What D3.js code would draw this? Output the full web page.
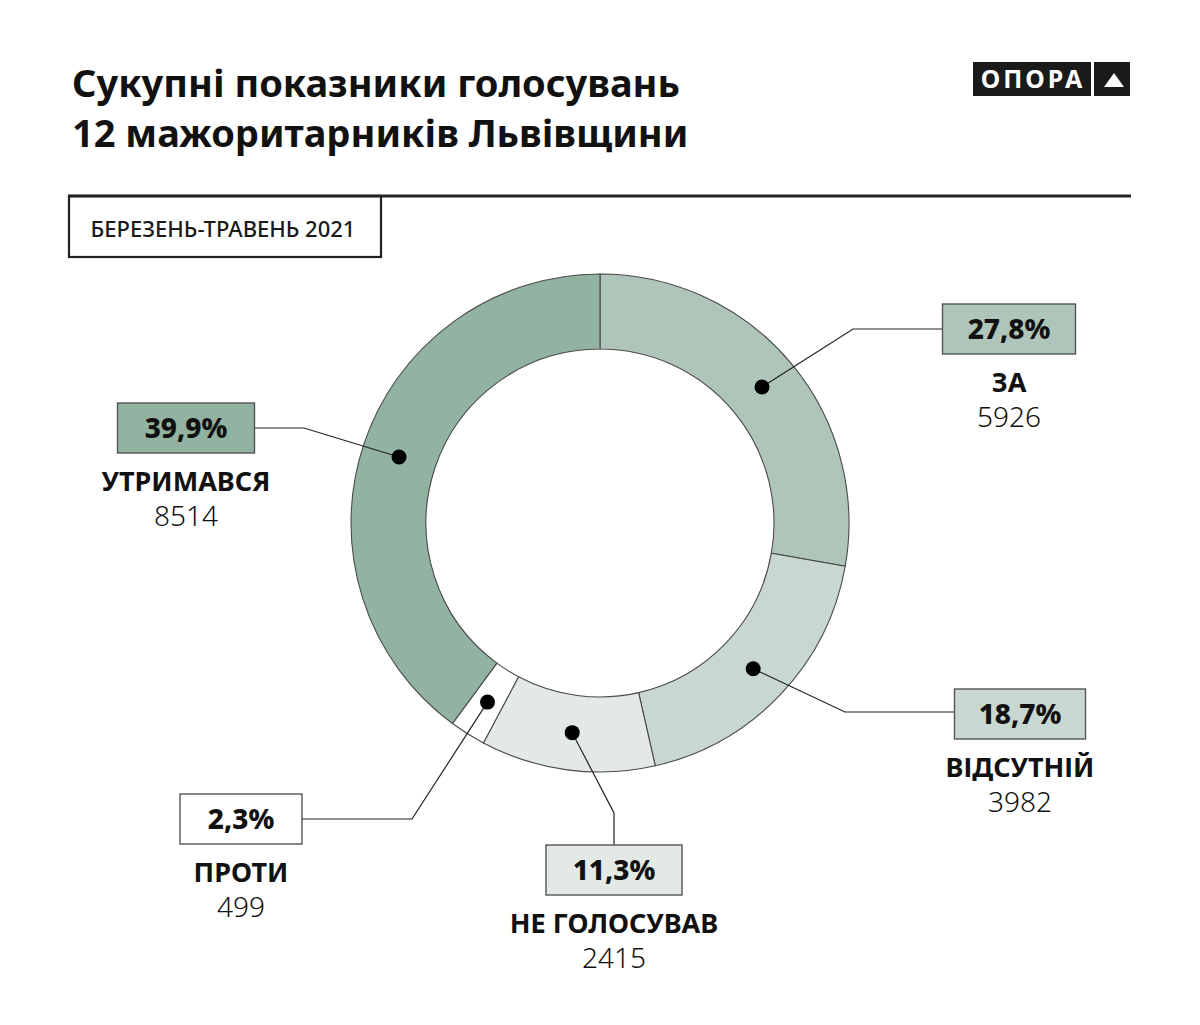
<!DOCTYPE html>
<html>
<head>
<meta charset="utf-8">
<script src="https://cdn.jsdelivr.net/npm/d3@7"></script>
<style>
  body { margin: 0; background: #fff; }
  svg { display: block; font-family: "Noto Sans", "DejaVu Sans", sans-serif; }
</style>
</head>
<body>
<svg id="chart" width="1200" height="1025"></svg>
<script>
// data
var categories = ["ЗА", "ВІДСУТНІЙ", "НЕ ГОЛОСУВАВ", "ПРОТИ", "УТРИМАВСЯ"];
var votes = [5926, 3982, 2415, 499, 8514];
var colors = ["#afc5b9", "#c8d7cf", "#e3eae5", "#ffffff", "#92b2a2"];

// where each callout sits: box centre x, box top y, elbow of the leader line
var callouts = [
  { cx: 1009, top: 304, w: 133, elbow: [853, 329], end: [943, 329] },
  { cx: 1020, top: 689, w: 131, elbow: [845, 712], end: [955, 712] },
  { cx: 614, top: 845, w: 136, elbow: [614, 813], end: [614, 845] },
  { cx: 241, top: 794, w: 122, elbow: [412, 819], end: [302, 819] },
  { cx: 186, top: 403, w: 137, elbow: [304, 428], end: [255, 428] }
];

var svg = d3.select("#chart");

// title
var title = svg.append("text")
  .attr("x", 72).attr("y", 97)
  .attr("font-size", 38).attr("font-weight", 700).attr("fill", "#111");
title.append("tspan").attr("x", 72).attr("y", 97).text("Сукупні показники голосувань");
title.append("tspan").attr("x", 72).attr("y", 147).text("12 мажоритарників Львівщини");

// logo
svg.append("rect").attr("x", 973).attr("y", 62).attr("width", 118).attr("height", 34).attr("fill", "#1a1a1a");
svg.append("rect").attr("x", 1094).attr("y", 62).attr("width", 36).attr("height", 34).attr("fill", "#1a1a1a");
svg.append("text").attr("x", 1033).attr("y", 88).attr("text-anchor", "middle")
  .attr("font-size", 25).attr("font-weight", 700).attr("fill", "#fff")
  .attr("letter-spacing", 3).text("ОПОРА");
svg.append("path").attr("d", "M1114,73 L1124,87 L1104,87 Z").attr("fill", "#fff");

// rule + period box
svg.append("line").attr("x1", 68).attr("x2", 1131).attr("y1", 196).attr("y2", 196)
  .attr("stroke", "#222").attr("stroke-width", 3);
svg.append("rect").attr("x", 69).attr("y", 196).attr("width", 312).attr("height", 61)
  .attr("fill", "none").attr("stroke", "#222").attr("stroke-width", 2.2);
svg.append("text").attr("x", 223).attr("y", 237).attr("text-anchor", "middle")
  .attr("font-size", 22).attr("font-weight", 500).attr("fill", "#1a1a1a")
  .text("БЕРЕЗЕНЬ-ТРАВЕНЬ 2021");

// donut
var cx = 600, cy = 523, outerR = 249, innerR = 174;
var total = d3.sum(votes);
var pct = d3.format(".1f");

var pie = d3.pie().sort(null).value(d => d)(votes);
var arc = d3.arc().innerRadius(innerR).outerRadius(outerR);

var g = svg.append("g").attr("transform", "translate(" + cx + "," + cy + ")");

g.selectAll("path.slice")
  .data(pie)
  .enter()
  .append("path")
  .attr("class", "slice")
  .attr("d", arc)
  .attr("fill", (d, i) => colors[i])
  .attr("stroke", "#4a4a4a")
  .attr("stroke-width", 1.1);

// leader lines and dots
pie.forEach((d, i) => {
  var c = arc.centroid(d);
  var dot = [cx + c[0], cy + c[1]];
  var lo = callouts[i];
  svg.append("polyline")
    .attr("points", [dot, lo.elbow, lo.end].map(p => p.join(",")).join(" "))
    .attr("fill", "none").attr("stroke", "#222").attr("stroke-width", 1.2);
  svg.append("circle").attr("cx", dot[0]).attr("cy", dot[1]).attr("r", 7.5).attr("fill", "#000");
});

// callout boxes
callouts.forEach((lo, i) => {
  svg.append("rect")
    .attr("x", lo.cx - lo.w / 2).attr("y", lo.top)
    .attr("width", lo.w).attr("height", 50)
    .attr("fill", colors[i]).attr("stroke", "#555").attr("stroke-width", 1.4);
  svg.append("text")
    .attr("x", lo.cx).attr("y", lo.top + 35).attr("text-anchor", "middle")
    .attr("font-size", 28).attr("font-weight", 800).attr("fill", "#111")
    .text(pct(votes[i] / total * 100).replace(".", ",") + "%");
  svg.append("text")
    .attr("x", lo.cx).attr("y", lo.top + 88).attr("text-anchor", "middle")
    .attr("font-size", 27).attr("font-weight", 700).attr("fill", "#111")
    .text(categories[i]);
  svg.append("text")
    .attr("x", lo.cx).attr("y", lo.top + 123).attr("text-anchor", "middle")
    .attr("font-size", 28).attr("font-weight", 300).attr("fill", "#111")
    .text(votes[i]);
});
</script>
</body>
</html>
